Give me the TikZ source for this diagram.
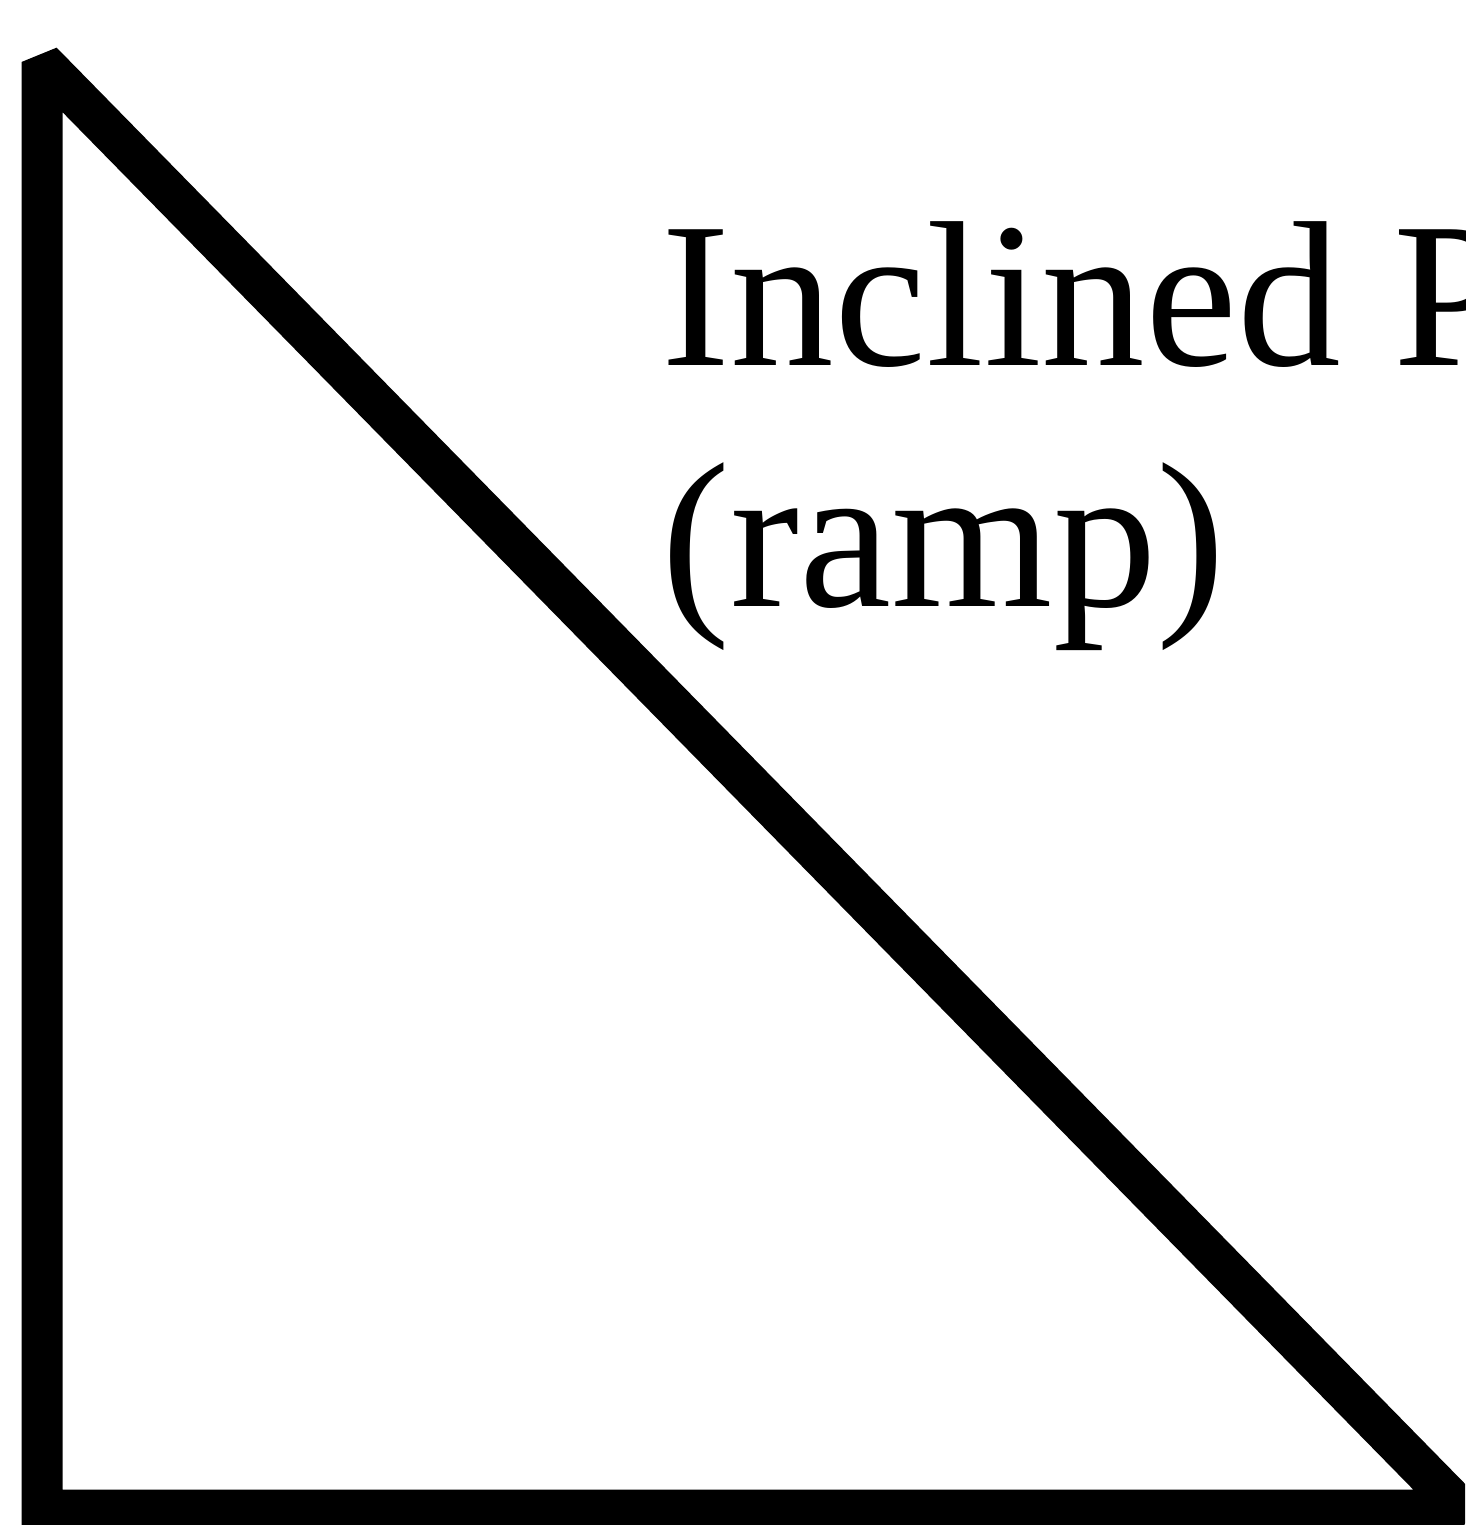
\documentclass[tikz,border=0pt]{standalone}
\usepackage{fontspec}
\setmainfont{Liberation Serif}
\usetikzlibrary{positioning}
\tikzstyle{ramp}=[draw=black,line width=0.41cm,line join=miter,miter limit=2]
\tikzstyle{lbl}=[inner sep=0pt,anchor=base west,font=\fontsize{59}{68}\selectfont]

\begin{document}
\begin{tikzpicture}
\useasboundingbox (0,0) rectangle (14.65,-15.25);
\clip (0,0) rectangle (14.65,-15.25);
\coordinate (top) at (0.42,-0.62);
\coordinate (foot) at (0.42,-15.10);
\coordinate (tip) at (14.62,-15.10);
\draw[ramp] (top) -- (foot) -- (tip) -- cycle;
\node[lbl] (name) at (6.61,-3.66) {Inclined Plane};
\node[lbl] (kind) at (6.61,-6.06) {(ramp)};
\end{tikzpicture}
\end{document}
